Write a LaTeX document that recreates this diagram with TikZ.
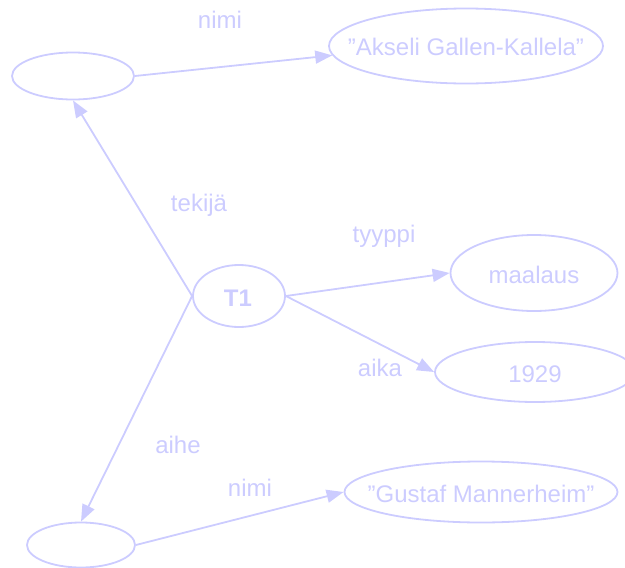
\documentclass[tikz,border=0pt]{standalone}
\usepackage{fontspec}
\setmainfont{Liberation Sans}
\usetikzlibrary{shapes.geometric,arrows.meta}
\definecolor{lav}{RGB}{204,204,255}
\tikzset{
  ell/.style={ellipse, draw=lav, line width=1.8pt, inner sep=0pt, text=lav,
    font=\fontsize{24}{28}\selectfont},
  lbl/.style={anchor=base, inner sep=0pt, text=lav, font=\fontsize{24}{28}\selectfont},
  conn/.style={draw=lav, line width=1.8pt, -{Triangle[length=17pt,width=13pt]}}
}
\begin{document}
\begin{tikzpicture}[x=1pt,y=-1pt]
\useasboundingbox (0,0) rectangle (625,568);
% nodes
\node[ell, minimum width=122pt, minimum height=47pt] (tl) at (73,76) {};
\node[ell, minimum width=274pt, minimum height=75pt] (ak) at (466,46) {};
\node[lbl] (akt) at (466,55) {”Akseli Gallen-Kallela”};
\node[ell, minimum width=92pt, minimum height=62pt] (t1) at (239,296) {};
\node[lbl, font=\fontsize{24}{28}\selectfont\bfseries] (t1t) at (238,306) {T1};
\node[ell, minimum width=167pt, minimum height=76pt] (ma) at (534,273) {};
\node[lbl] (mat) at (534,283) {maalaus};
\node[ell, minimum width=200pt, minimum height=60pt] (yr) at (535,372) {};
\node[lbl] (yrt) at (535,382) {1929};
\node[ell, minimum width=108pt, minimum height=45pt] (bl) at (81,545) {};
\node[ell, minimum width=273pt, minimum height=61pt] (gu) at (481,492) {};
\node[lbl] (gut) at (481,502) {”Gustaf Mannerheim”};
% edge labels
\node[lbl] (l1) at (220,28) {nimi};
\node[lbl] (l2) at (199,211) {tekijä};
\node[lbl] (l3) at (384,242) {tyyppi};
\node[lbl] (l4) at (380,376) {aika};
\node[lbl] (l5) at (178,453) {aihe};
\node[lbl] (l6) at (250,496) {nimi};
% connectors
\draw[conn] (tl.east) -- (ak.184);
\draw[conn] (t1.west) -- (tl.south);
\draw[conn] (t1.west) -- (bl.north);
\draw[conn] (t1.east) -- (ma.west);
\draw[conn] (t1.east) -- (yr.west);
\draw[conn] (bl.east) -- (gu.west);
\end{tikzpicture}
\end{document}
